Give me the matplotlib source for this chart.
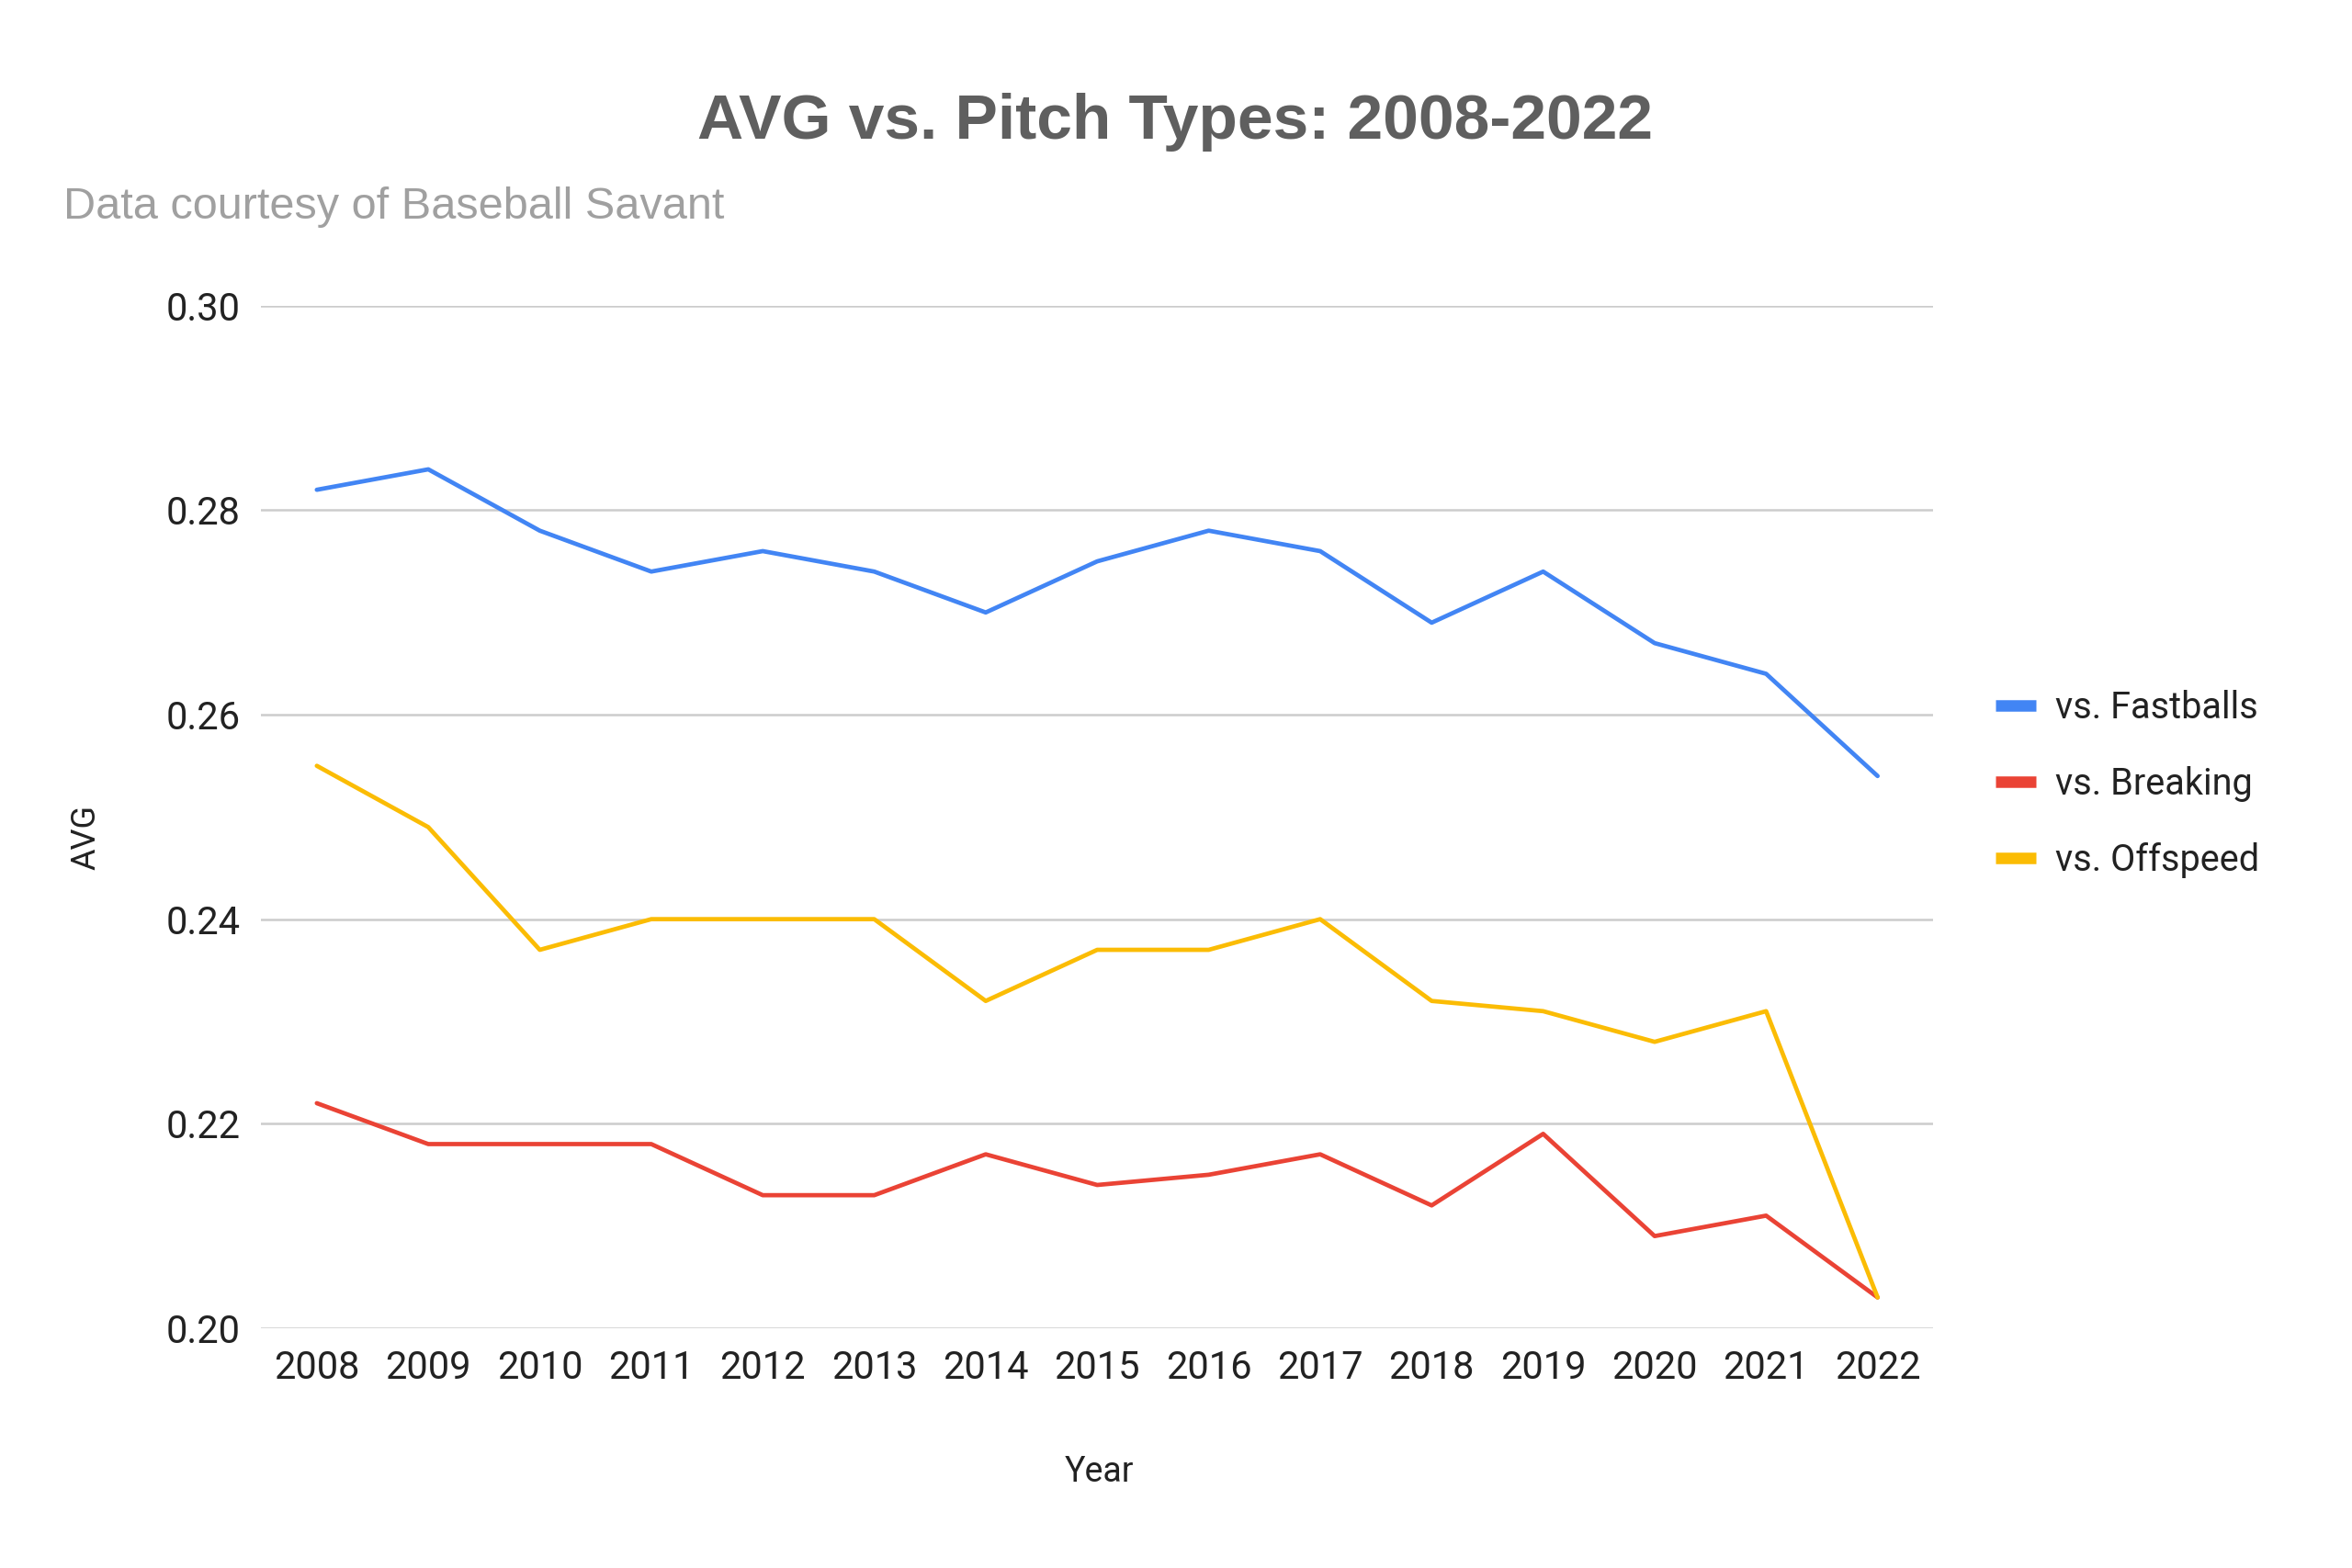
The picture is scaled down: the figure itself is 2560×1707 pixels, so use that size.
import matplotlib.pyplot as plt
import numpy as np

plt.rcParams['font.family'] = ['Roboto', 'DejaVu Sans']

years = list(range(2008, 2023))
fastballs = [0.282, 0.284, 0.278, 0.274, 0.276, 0.274, 0.270, 0.275,
             0.278, 0.276, 0.269, 0.274, 0.267, 0.264, 0.254]
breaking = [0.222, 0.218, 0.218, 0.218, 0.213, 0.213, 0.217, 0.214,
            0.215, 0.217, 0.212, 0.219, 0.209, 0.211, 0.203]
offspeed = [0.255, 0.249, 0.237, 0.240, 0.240, 0.240, 0.232, 0.237,
            0.237, 0.240, 0.232, 0.231, 0.228, 0.231, 0.203]
series_names = ['vs. Fastballs', 'vs. Breaking', 'vs. Offspeed']
series_colors = ['#4285F4', '#EA4335', '#FBBC04']
y_ticks = [0.20, 0.22, 0.24, 0.26, 0.28, 0.30]

fig = plt.figure(figsize=(25.6, 17.07), dpi=100)
ax = fig.add_axes([0.111, 0.153, 0.711, 0.652])

lines = []
for vals, name, col in zip([fastballs, breaking, offspeed], series_names, series_colors):
    ln, = ax.plot(years, vals, color=col, lw=3.4, label=name,
                  solid_joinstyle='round', solid_capstyle='round')
    lines.append(ln)

ax.set_xlim(2007.5, 2022.5)
ax.set_ylim(0.20, 0.30)
ax.set_yticks(y_ticks)
ax.set_yticklabels([f'{v:.2f}' for v in y_ticks])
ax.set_xticks(years)
ax.set_xticklabels([str(y) for y in years])
ax.grid(axis='y', color='#cccccc', lw=1.8)
ax.set_axisbelow(True)
for s in ax.spines.values():
    s.set_visible(False)
ax.tick_params(axis='both', length=0, labelsize=30, colors='#222222')
ax.tick_params(axis='y', pad=16)
ax.tick_params(axis='x', pad=17)

fig.text(0.4995, 0.922, 'AVG vs. Pitch Types: 2008-2022', ha='center', va='center',
         fontsize=50, fontweight='bold', color='#5f5f5f', family='Liberation Sans')
fig.text(0.027, 0.868, 'Data courtesy of Baseball Savant', ha='left', va='center',
         fontsize=35, color='#a0a0a0', family='Liberation Sans')
fig.text(0.0365, 0.466, 'AVG', rotation=90, ha='center', va='center',
         fontsize=26, color='#222222')
fig.text(0.4675, 0.061, 'Year', ha='center', va='center',
         fontsize=27, color='#222222')

leg = fig.legend(handles=lines, loc='center left', bbox_to_anchor=(0.8485, 0.500),
                 frameon=False, fontsize=28.5, handlelength=1.1, handletextpad=0.55,
                 labelspacing=1.12, borderpad=0, borderaxespad=0)
for h in leg.get_lines():
    h.set_linewidth(9)
    h.set_solid_capstyle('butt')
for t in leg.get_texts():
    t.set_color('#222222')

fig.savefig('out.png', dpi=100)
